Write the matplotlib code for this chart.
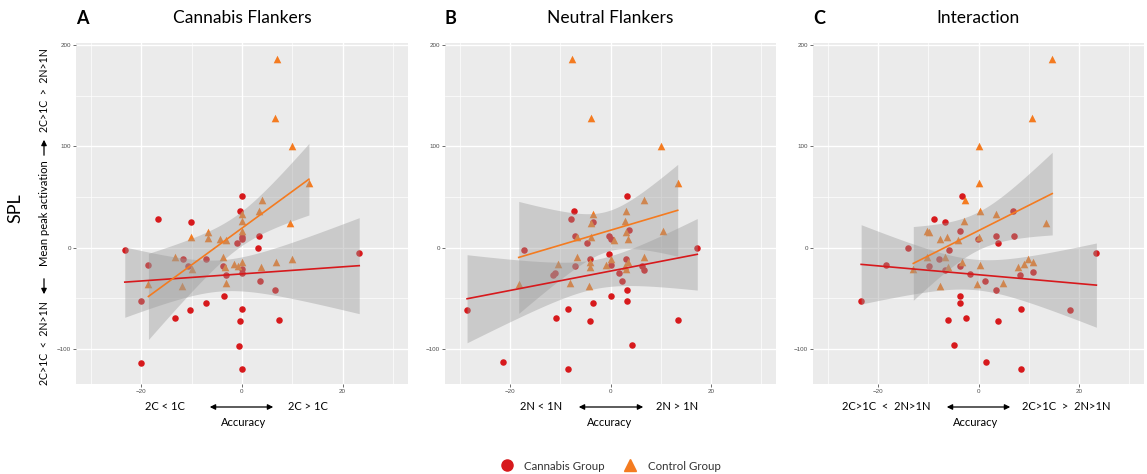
import numpy as np
import matplotlib
matplotlib.use("Agg")
from matplotlib import pyplot as plt
from matplotlib.patches import FancyArrowPatch
from matplotlib.lines import Line2D
from matplotlib.ticker import MultipleLocator

# ---- data (x = accuracy difference, y = SPL peak activation)
a_cann_x = [0, -16.7, -10.1, -0.3, 0, 0, -0.9, 3.3, 3.1, -23.3, -18.7, -11.8, -10.7, -7.2, -3.7, -3.2,
            0, 0, 3.5, 6.6, 23.3, -20, -13.3, -10.3, -7.2, -3.6, 0, -0.3, 7.4, -0.5, -20, 0]
a_cann_y = [51, 28.6, 25.7, 36.5, 10.9, 8.2, 4.9, 11.5, -0.3, -2, -17.4, -10.9, -18, -10.9, -18, -27,
            -21.4, -25.3, -32.6, -41.8, -5.6, -52.6, -69.4, -61.5, -54.3, -48, -60.5, -72.4, -71.4, -96.7, -113.5, -119.7]
a_ctrl_x = [7.0, 6.6, 10, 13.3, 4.05, 3.3, 0, 0, 0, 9.6, -10.1, -6.7, -6.7, -4.4, -3.25, -13.4,
            -10, -3.7, -3.3, -1.5, -0.7, 0, 3.7, 6.8, 10, -18.6, -12, -3.25]
a_ctrl_y = [186.5, 128, 100.4, 64.1, 47, 36.2, 32.9, 26, 16.8, 24.7, 10.9, 15.8, 9.9, 8.2, 7.6, -8.9,
            -21.4, -9.5, -18.8, -16.1, -18, -13.8, -18.8, -13.8, -10.9, -35.9, -37.5, -34.5]

b_cann_x = [3.3, -7.3, -7.9, -3.5, 3.6, -7.1, -0.3, 0.1, -4.7, -17.3, 17.3, -0.2, -4.1, -7.1, 0, 3.1,
            6.2, 6.7, -11, -11.5, 1.7, 2.2, 3.3, -28.6, 0, 3.3, -3.5, -8.5, -10.9, -4.1, 13.4, 4.3, -21.5, -8.5]
b_cann_y = [50.8, 36.7, 28.5, 25.6, 17, 11.1, 11.5, 8.9, 4.9, -2, -0.3, -5.9, -10.8, -18, -17.4, -10.8,
            -18, -22, -24.6, -27.2, -25.2, -32.5, -41.6, -61, -47.9, -52.5, -54.1, -60.3, -69.2, -72.1, -71.1, -96.4, -113.1, -119.3]
b_ctrl_x = [-7.6, -3.9, 10.1, 13.4, 6.7, 3.1, -3.5, -3.8, 2.9, 3.1, 10.4, -6.7, -3.8, 0.7, 3.4, -6.7,
            -10.5, -4.1, -4.1, -0.9, 0.1, 2.8, 3.1, 3.4, 6.6, -18.3, -8.1, -4.3]
b_ctrl_y = [186.5, 128, 100.4, 63.9, 46.9, 36.4, 33.1, 24.6, 26.2, 15.7, 16.7, 10.2, 10.8, 7.5, 8.2, -8.9,
            -16.1, -14.1, -18.7, -17, -10.8, -18, -21.3, -13.8, -9.5, -35.7, -35.1, -37.4]

c_cann_x = [-3.2, -8.8, -6.6, 6.9, -3.6, 3.5, 7.1, 3.8, -0.1, -14.1, -5.8, -18.4, -7.8, -9.9, -6.7, -3.6,
            -1.7, 1.3, 3.4, 8.3, 10.9, 23.5, -23.4, -3.6, -3.7, 8.5, 18.2, -6, -2.5, 3.8, -4.8, 1.4, 8.5]
c_cann_y = [50.8, 28.5, 25.6, 36.4, 16.7, 11.5, 11.1, 4.6, 8.2, -0.3, -2, -17.4, -11.1, -18, -22, -18,
            -25.6, -32.5, -41.6, -26.9, -24.3, -5.6, -52.5, -47.9, -54.1, -60.3, -61.3, -71.1, -69.2, -72.1, -96.4, -113.1, -119.3]
c_ctrl_x = [14.7, 10.7, 0, 0, -2.7, 0.3, 3.5, -2.9, 13.4, -10.3, -9.8, -7.7, -6.2, -4.1, 0, -10.2,
            -6.6, -6, -13, -3.3, 0.3, 7.8, 9.1, 9.9, 10.9, -7.6, -0.3, 4.9]
c_ctrl_y = [186.5, 128, 100.4, 64, 46.9, 36.4, 33.1, 26.2, 24.6, 16.7, 15.4, 8.2, 10.8, 7.5, 10.2, -9.5,
            -8.9, -18.7, -21.3, -14.1, -17, -18.7, -16.1, -10.8, -13.8, -37.4, -35.7, -34.4]

letters = ["A", "B", "C"]
titles = ["Cannabis Flankers", "Neutral Flankers", "Interaction"]
left_labels = ["2C < 1C", "2N < 1N", "2C>1C  <  2N>1N"]
right_labels = ["2C > 1C", "2N > 1N", "2C>1C  >  2N>1N"]
groups = ["Cannabis Group", "Control Group"]

RED = "#D7191C"
ORANGE = "#F47B20"
W, H = 1147, 474


def fx(px):
    return px / W


def fy(py):
    return 1 - py / H


def t_quant(df):
    # Cornish-Fisher approximation of the 97.5% t quantile
    z = 1.959964
    return z + (z**3 + z) / (4 * df) + (5 * z**5 + 16 * z**3 + 3 * z) / (96 * df**2)


def lm_band(x, y):
    x = np.asarray(x, float)
    y = np.asarray(y, float)
    b, a = np.polyfit(x, y, 1)
    xs = np.linspace(x.min(), x.max(), 100)
    n = len(x)
    s = np.sqrt(np.sum((y - (a + b * x)) ** 2) / (n - 2))
    sxx = np.sum((x - x.mean()) ** 2)
    se = s * np.sqrt(1 / n + (xs - x.mean()) ** 2 / sxx)
    fit = a + b * xs
    t = t_quant(n - 2)
    return xs, fit, fit - t * se, fit + t * se


panels = [
    (a_cann_x, a_cann_y, a_ctrl_x, a_ctrl_y),
    (b_cann_x, b_cann_y, b_ctrl_x, b_ctrl_y),
    (c_cann_x, c_cann_y, c_ctrl_x, c_ctrl_y),
]
# axes boxes in pixels: left, right
boxes = [(76, 408), (445, 776), (813, 1144)]
top_px, bot_px = 43, 384

plt.rcParams['font.family'] = ['Lato', 'DejaVu Sans']
fig = plt.figure(figsize=(W / 100, H / 100), dpi=100)

for i, (cx, cy, ox, oy) in enumerate(panels):
    l, r = boxes[i]
    ax = fig.add_axes([fx(l), fy(bot_px), (r - l) / W, (bot_px - top_px) / H])
    ax.set_facecolor("#EBEBEB")
    for sp in ax.spines.values():
        sp.set_visible(False)
    ax.set_xlim(-33, 33)
    ax.set_ylim(-134.5, 202)
    ax.xaxis.set_major_locator(MultipleLocator(20))
    ax.xaxis.set_minor_locator(MultipleLocator(10))
    ax.yaxis.set_major_locator(MultipleLocator(100))
    ax.yaxis.set_minor_locator(MultipleLocator(50))
    ax.grid(which="major", color="white", lw=1.0)
    ax.grid(which="minor", color="white", lw=0.5)
    ax.set_axisbelow(True)
    ax.tick_params(which="major", length=2, width=0.5, color="#333333", labelsize=4.5,
                   labelcolor="#4D4D4D", pad=1.5)
    ax.tick_params(which="minor", length=0)
    for lab in ax.get_xticklabels() + ax.get_yticklabels():
        lab.set_family("Liberation Sans")

    ax.scatter(cx, cy, s=22, marker="o", color=RED, lw=0, zorder=2)
    ax.scatter(ox, oy, s=30, marker="^", color=ORANGE, lw=0, zorder=2)

    for gx, gy, col in [(cx, cy, RED), (ox, oy, ORANGE)]:
        xs, fit, lo, hi = lm_band(gx, gy)
        ax.fill_between(xs, lo, hi, color="#999999", alpha=0.4, lw=0, zorder=3)
        ax.plot(xs, fit, color=col, lw=1.2, zorder=4)

    mid = (l + r) / 2
    fig.text(fx(l), fy(18), letters[i], fontsize=13, fontweight="bold", ha="left", va="center")
    fig.text(fx(mid), fy(18), titles[i], fontsize=12.5, ha="center", va="center")

# x-axis annotations under each panel
xlab = [(164.5, 207, 276, 308, 244), (541.5, 576, 646, 677.5, 610), (886.5, 944, 1013, 1066.5, 976)]
for i, (lc, a0, a1, rc, acc) in enumerate(xlab):
    fig.text(fx(lc), fy(407), left_labels[i], fontsize=8, ha="center", va="center")
    fig.text(fx(rc), fy(407), right_labels[i], fontsize=8, ha="center", va="center")
    fig.text(fx(acc), fy(423), "Accuracy", fontsize=8, ha="center", va="center")
    fig.add_artist(FancyArrowPatch((fx(a0), fy(407)), (fx(a1), fy(407)), transform=fig.transFigure,
                                   arrowstyle="<|-|>", mutation_scale=8, lw=0.9, color="black"))

# y-axis label pieces
fig.text(fx(15), fy(208), "SPL", fontsize=13, rotation=90, ha="center", va="center")
fig.text(fx(44), fy(90), "2C>1C  >  2N>1N", fontsize=7.6, rotation=90, ha="center", va="center")
fig.text(fx(44), fy(213), "Mean peak activation", fontsize=8, rotation=90, ha="center", va="center")
fig.text(fx(44), fy(343), "2C>1C  <  2N>1N", fontsize=7.6, rotation=90, ha="center", va="center")
fig.add_artist(FancyArrowPatch((fx(44), fy(158)), (fx(44), fy(137)), transform=fig.transFigure,
                               arrowstyle="-|>", mutation_scale=8, lw=0.9, color="black"))
fig.add_artist(FancyArrowPatch((fx(44), fy(276)), (fx(44), fy(297)), transform=fig.transFigure,
                               arrowstyle="-|>", mutation_scale=8, lw=0.9, color="black"))

handles = [Line2D([], [], ls="", marker="o", ms=8, color=RED),
           Line2D([], [], ls="", marker="^", ms=8, color=ORANGE)]
fig.legend(handles, groups, loc="center", bbox_to_anchor=(fx(608), fy(466)), ncol=2, frameon=False,
           fontsize=8.3, handletextpad=0.5, columnspacing=1.2, labelcolor="#333333")

fig.savefig("out.png", dpi=100)
